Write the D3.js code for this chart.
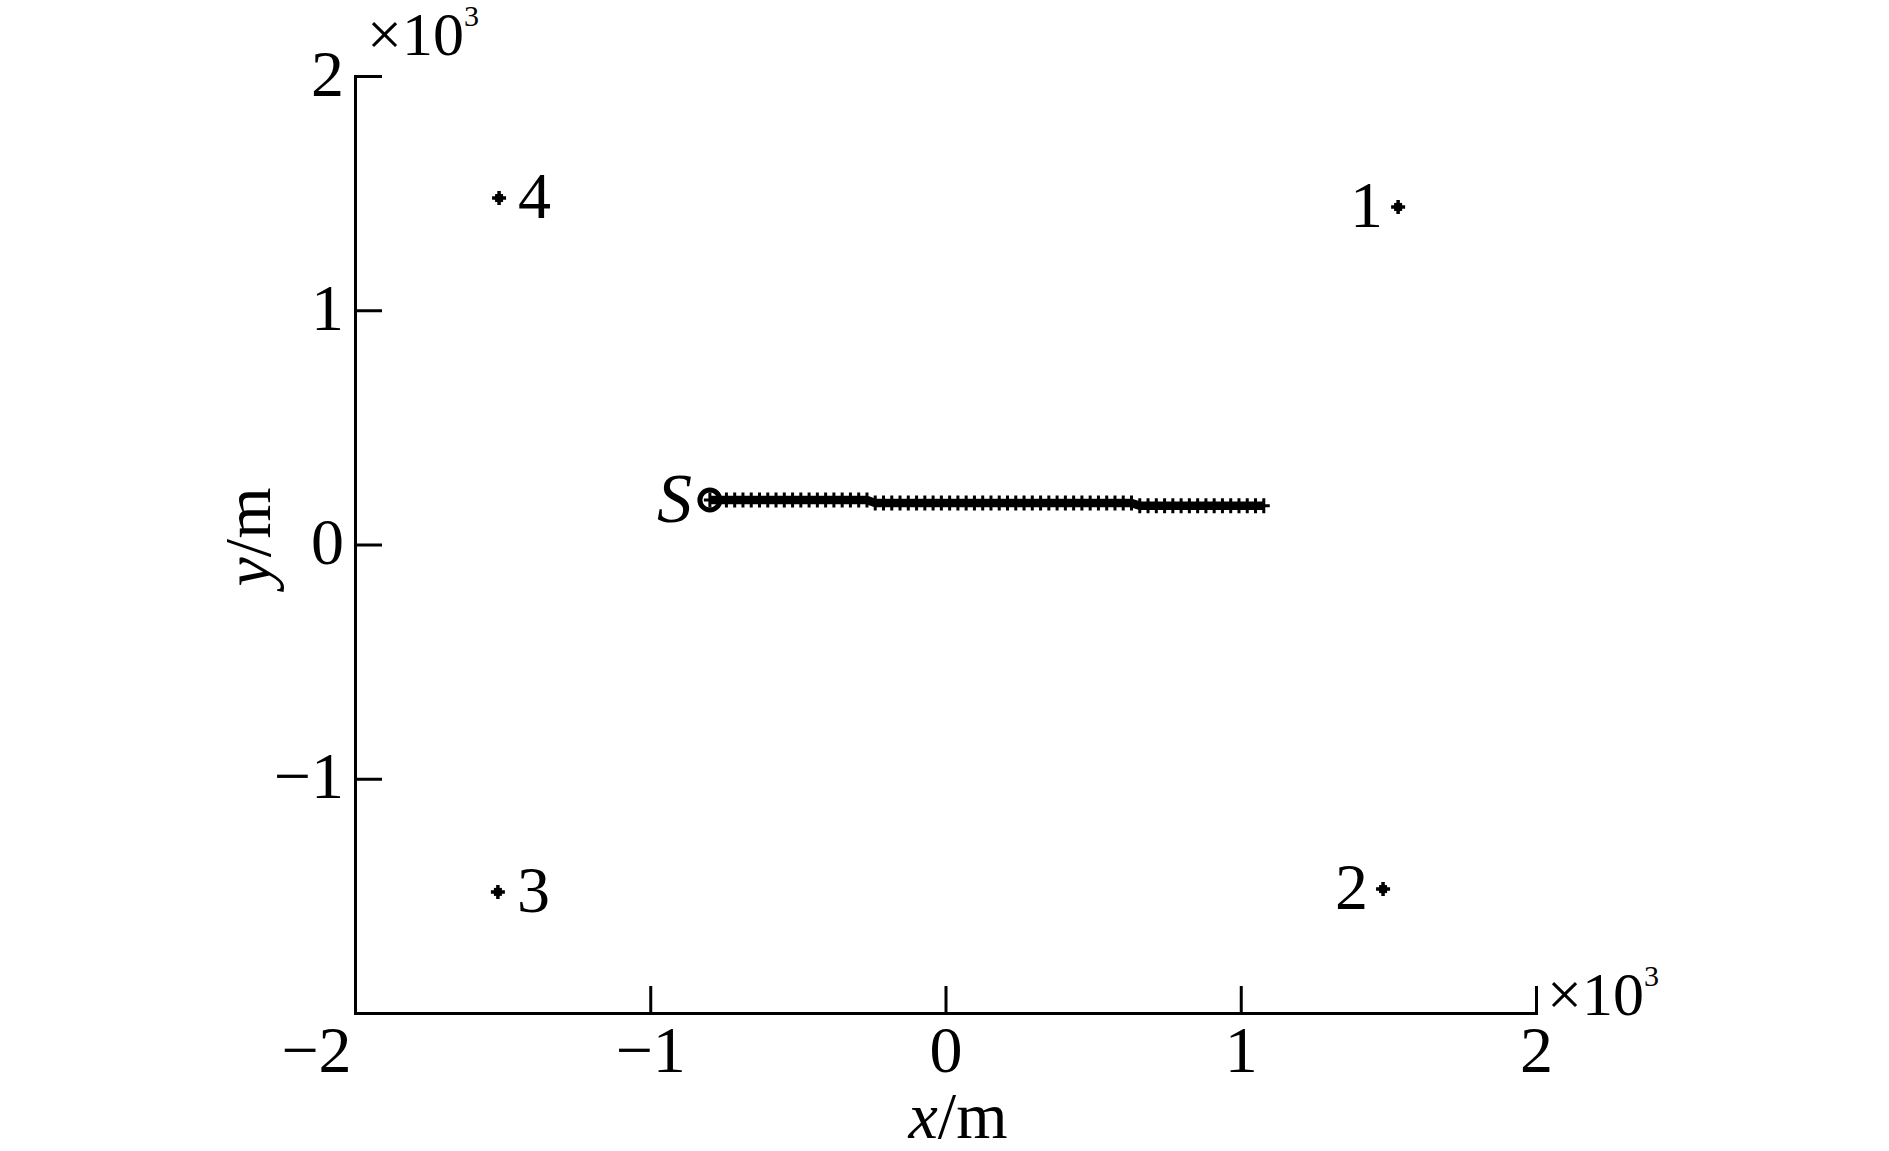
<!DOCTYPE html>
<html>
<head>
<meta charset="utf-8">
<script src="https://cdn.jsdelivr.net/npm/d3@7"></script>
<style>
  html, body { margin: 0; padding: 0; background: #fff; }
  svg { display: block; }
  text { font-family: "Liberation Serif", "Times New Roman", serif; fill: #000; }
</style>
</head>
<body>
<svg id="chart" width="1889" height="1151"></svg>
<script>
// ---- data (metres) ----
const xTickValues = [-2000, -1000, 0, 1000, 2000];
const yTickValues = [-1000, 0, 1000, 2000];

const stationNames = ["1", "2", "3", "4"];
const stationX = [1533, 1482, -1516, -1512];
const stationY = [1441, -1471, -1483, 1479];
const stationLabelSide = ["left", "left", "right", "right"];

const trackX = [
  -798, -770, -742, -714, -686, -658, -630, -602, -574, -546, -518, -490, -462, -434, -406, -378, -350, -322, -294, -266,
  -238, -210, -182, -154, -126, -98, -70, -42, -14, 14, 42, 70, 98, 126, 154, 182, 210, 238, 266, 294, 322, 350, 378, 406, 434, 462, 490, 518, 546, 574, 602, 630,
  658, 686, 714, 742, 770, 798, 826, 854, 882, 910, 938, 966, 994, 1022, 1050, 1078
];
const trackY = [
  190, 190, 190, 190, 190, 190, 190, 190, 190, 190, 190, 190, 190, 190, 190, 190, 190, 190, 190, 190,
  177, 177, 177, 177, 177, 177, 177, 177, 177, 177, 177, 177, 177, 177, 177, 177, 177, 177, 177, 177, 177, 177, 177, 177, 177, 177, 177, 177, 177, 177, 177, 177,
  165, 165, 165, 165, 165, 165, 165, 165, 165, 165, 165, 165, 165, 165, 165, 165
];
const startLabel = "S";

// ---- layout ----
const svg = d3.select("#chart");
const x = d3.scaleLinear().domain([-2000, 2000]).range([355, 1536]);
const y = d3.scaleLinear().domain([-2000, 2000]).range([1013, 76]);
const FS = 66;
const fmt = d => d3.format("d")(d / 1000);

// x axis
const gx = svg.append("g").attr("transform", `translate(0,${y(-2000)})`)
  .call(d3.axisBottom(x).tickValues(xTickValues).tickFormat(fmt)
    .tickSizeInner(-27).tickSizeOuter(0).tickPadding(12));
// y axis
const gy = svg.append("g").attr("transform", `translate(${x(-2000)},0)`)
  .call(d3.axisLeft(y).tickValues(yTickValues).tickFormat(fmt)
    .tickSizeInner(-27).tickSizeOuter(0).tickPadding(11));

[gx, gy].forEach(g => {
  g.select(".domain").attr("stroke", "#000").attr("stroke-width", 3).attr("stroke-linecap", "square");
  g.selectAll(".tick line").attr("stroke", "#000").attr("stroke-width", 3);
  g.selectAll(".tick text").attr("font-size", FS).attr("font-family", "Liberation Serif").attr("fill", "#000");
});
gx.selectAll(".tick text").filter(d => d === -2000).attr("dx", -39);
gy.selectAll(".tick text").attr("dy", "0.29em");

// ×10^3 exponents
function expLabel(px, py) {
  const t = svg.append("text").attr("x", px).attr("y", py).attr("font-size", 62);
  t.append("tspan").text("×10");
  t.append("tspan").attr("font-size", 30).attr("dy", -29).text("3");
}
expLabel(x(-2000) + 12, 55);
expLabel(x(2000) + 11, 1015);

// axis titles
const xt = svg.append("text").attr("x", 958).attr("y", 1138).attr("text-anchor", "middle").attr("font-size", FS);
xt.append("tspan").attr("font-style", "italic").text("x");
xt.append("tspan").text("/m");
const yt = svg.append("text").attr("transform", "translate(270,537) rotate(-90)")
  .attr("text-anchor", "middle").attr("font-size", FS);
yt.append("tspan").attr("font-style", "italic").text("y");
yt.append("tspan").text("/m");

// stations
const stations = stationNames.map((n, i) => ({ n, x: stationX[i], y: stationY[i], side: stationLabelSide[i] }));
const sg = svg.append("g");
stations.forEach(s => {
  const cx = x(s.x), cy = y(s.y);
  sg.append("path").attr("d", `M${cx - 7},${cy}H${cx + 7}M${cx},${cy - 7}V${cy + 7}`)
    .attr("stroke", "#000").attr("stroke-width", 3.5);
  sg.append("rect").attr("x", cx - 4).attr("y", cy - 4).attr("width", 8).attr("height", 8).attr("fill", "#000");
  sg.append("text").attr("x", s.side === "left" ? cx - 15 : cx + 19).attr("y", cy + 20)
    .attr("text-anchor", s.side === "left" ? "end" : "start").attr("font-size", FS).text(s.n);
});

// track
const track = trackX.map((v, i) => [v, trackY[i]]);
svg.append("path").datum(track)
  .attr("d", d3.line().x(d => x(d[0])).y(d => y(d[1])))
  .attr("fill", "none").attr("stroke", "#000").attr("stroke-width", 8.5);
svg.append("g").selectAll("path.mk").data(track).join("path").attr("class", "mk")
  .attr("d", d => { const px = x(d[0]), py = y(d[1]); return `M${px},${py - 7.5}V${py + 7.5}M${px - 6},${py}H${px + 6}`; })
  .attr("stroke", "#000").attr("stroke-width", 3);
// start circle
svg.append("circle").attr("cx", x(track[0][0])).attr("cy", y(track[0][1])).attr("r", 10)
  .attr("fill", "none").attr("stroke", "#000").attr("stroke-width", 5);
svg.append("text").attr("x", x(track[0][0]) - 18).attr("y", y(track[0][1]) + 22)
  .attr("text-anchor", "end").attr("font-size", 70).attr("font-style", "italic").text(startLabel);
</script>
</body>
</html>
